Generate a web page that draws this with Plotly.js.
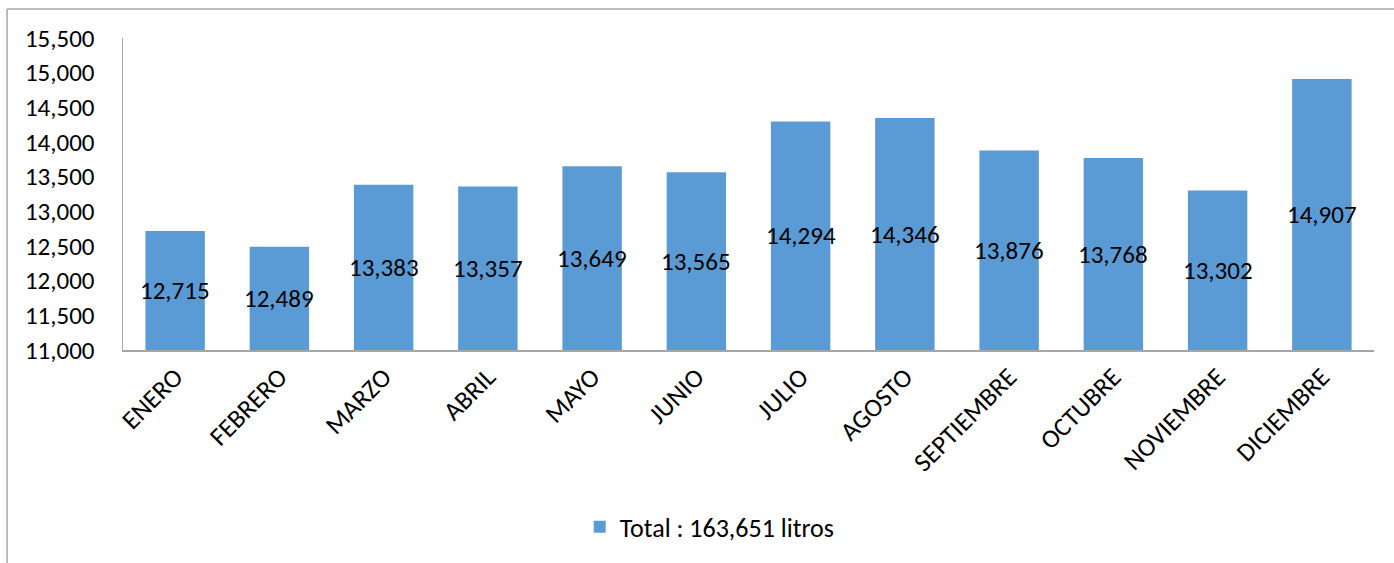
<!DOCTYPE html>
<html>
<head>
<meta charset="utf-8">
<script src="https://cdn.plot.ly/plotly-3.0.1.min.js"></script>
<style>
html,body{margin:0;padding:0;background:#fff;}
#chart{width:1394px;height:563px;}
</style>
</head>
<body>
<div id="chart"></div>
<script>
const months = ["ENERO","FEBRERO","MARZO","ABRIL","MAYO","JUNIO","JULIO","AGOSTO","SEPTIEMBRE","OCTUBRE","NOVIEMBRE","DICIEMBRE"];
const litros = [12715,12489,13383,13357,13649,13565,14294,14346,13876,13768,13302,14907];
const seriesName = "Total : 163,651 litros";
const yTicks = [11000,11500,12000,12500,13000,13500,14000,14500,15000,15500];
const yBase = 11000;

const FONT = "Carlito, Lato, 'Liberation Sans', sans-serif";

const trace = {
  type: "bar",
  x: months,
  y: litros,
  name: seriesName,
  marker: {color: "#5B9BD5"},
  showlegend: true,
  hoverinfo: "x+y"
};

const labels = months.map((m, i) => ({
  x: m,
  y: (yBase + litros[i]) / 2,
  xref: "x", yref: "y",
  text: litros[i].toLocaleString("en-US"),
  showarrow: false,
  font: {family: FONT, size: 25, color: "#000"}
}));

const layout = {
  width: 1394,
  height: 563,
  margin: {l: 123, r: 20, t: 38, b: 213},
  paper_bgcolor: "#fff",
  plot_bgcolor: "#fff",
  font: {family: FONT, size: 25, color: "#000"},
  bargap: 0.43,
  showlegend: true,
  legend: {orientation: "h", x: 0.469, xanchor: "center", y: -0.567, yanchor: "middle",
           font: {family: FONT, size: 26, color: "#000"}},
  xaxis: {
    type: "category",
    tickangle: -45,
    showline: true, linecolor: "#a6a6a6", linewidth: 1.5,
    showgrid: false, zeroline: false,
    ticks: "", tickfont: {family: FONT, size: 26, color: "#000"}
  },
  yaxis: {
    range: [11000, 15500],
    tickvals: yTicks,
    tickformat: ",",
    showline: true, linecolor: "#a6a6a6", linewidth: 1.5,
    showgrid: false, zeroline: false,
    ticks: "", ticklabelstandoff: 22,
    tickfont: {family: FONT, size: 25, color: "#000"}
  },
  annotations: labels,
  shapes: [
    {type: "line", xref: "paper", yref: "paper", x0: -0.0927, x1: 1.2, y0: 1.093, y1: 1.093,
     line: {color: "#a6a6a6", width: 1.5}},
    {type: "line", xref: "paper", yref: "paper", x0: -0.0927, x1: -0.0927, y0: 1.093, y1: -0.8,
     line: {color: "#a6a6a6", width: 1.5}}
  ]
};

Plotly.newPlot("chart", [trace], layout, {displayModeBar: false, staticPlot: true});
</script>
</body>
</html>
